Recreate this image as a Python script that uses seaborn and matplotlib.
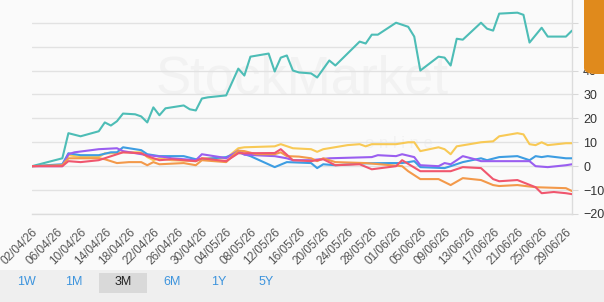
import pandas as pd
import numpy as np
import matplotlib
matplotlib.use("Agg")
import matplotlib.pyplot as plt
import matplotlib.dates as mdates
from matplotlib.patches import FancyBboxPatch, Rectangle
import seaborn as sns

# 데이터: 시작일(02/04/26) 기준 경과일, 누적 수익률(%)
start = pd.Timestamp("2026-04-02")

teal_days = [0, 5, 6, 8, 11, 12, 13, 14, 15, 17, 18, 19, 20, 21, 22, 25, 26, 27, 28, 29, 32, 34, 35, 36, 39,
             40, 41, 42, 43, 44, 46, 47, 49, 50, 54, 55, 56, 57, 60, 62, 63, 64, 67, 68, 69, 70, 71, 74, 75,
             76, 77, 80, 81, 82, 84, 85, 88, 89]
teal_vals = [0, 3.3, 13.8, 12.5, 14.6, 18.3, 17, 18.8, 22, 21.7, 20.8, 18.3, 24.6, 21.3, 24.2, 25.4, 23.8, 23.3,
             28.3, 28.8, 29.6, 40.8, 37.9, 45.8, 47.1, 39.6, 45.4, 46.3, 40, 39.2, 38.8, 37.1, 44.2, 42.1, 52.1,
             51.3, 55, 55, 60, 58.3, 54.2, 40, 45.8, 45.4, 42.1, 53.3, 52.9, 60, 57.5, 56.7, 63.8, 64.2, 63.3,
             51.7, 57.9, 54.2, 54.2, 56.7]

yellow_days = [0, 5, 6, 8, 11, 12, 13, 15, 18, 19, 20, 21, 23, 27, 28, 32, 34, 35, 40, 41, 43, 46, 47, 48, 52,
               54, 55, 56, 60, 62, 63, 64, 67, 68, 69, 70, 74, 76, 77, 80, 81, 82, 83, 84, 85, 88, 89]
yellow_vals = [0, 0.4, 4.6, 3.8, 3.8, 5.4, 5.4, 5.8, 5.8, 3.8, 2.5, 3.3, 2.5, 2.1, 3.3, 3.3, 7.5, 7.9, 8.3, 9.2,
               7.5, 7.1, 6.0, 7.1, 8.8, 9.2, 8.3, 9.2, 9.2, 10, 10, 6.3, 7.9, 7.1, 5, 8.3, 10, 10.4, 12.5, 13.8,
               13.3, 9.2, 8.8, 10, 8.8, 9.6, 9.6]

blue_days = [0, 5, 6, 8, 11, 13, 14, 15, 17, 18, 19, 21, 25, 27, 28, 32, 34, 36, 40, 42, 46, 47, 48, 50, 55,
             59, 61, 63, 64, 68, 69, 71, 74, 75, 77, 80, 82, 83, 84, 85, 88, 89]
blue_vals = [0, 0.8, 5.4, 4.6, 4.6, 5.8, 5.8, 7.9, 7.1, 6.7, 5, 4.2, 4.2, 2.9, 2.9, 3.8, 5.8, 4.2, -0.4, 1.7,
             1.3, -0.8, 0.8, 0.4, 1.2, 1.3, 1.3, 2.1, -0.4, -0.8, 0, 1.7, 3.3, 2.5, 3.8, 4.2, 2.5, 4.2, 3.8,
             4.2, 3.3, 3.3]

purple_days = [0, 5, 6, 7, 11, 14, 15, 19, 22, 23, 27, 28, 31, 32, 34, 35, 40, 42, 43, 46, 49, 56, 57, 60, 61,
               63, 64, 67, 68, 69, 71, 73, 74, 77, 82, 83, 85, 88, 89]
purple_vals = [0, 0, 5, 5.8, 7.1, 7.5, 6.3, 4.6, 3.8, 3.3, 2.5, 5, 3.8, 3.3, 6.5, 4.8, 4.2, 3.3, 2.5, 2.5, 3.3,
               3.8, 4.6, 4.2, 5, 3.8, 0.4, 0, 1.3, 0.8, 4.2, 2.9, 2.1, 2.1, 2.1, 0, -0.4, 0.4, 0.8]

orange_days = [0, 5, 6, 11, 12, 14, 16, 18, 19, 20, 21, 25, 27, 28, 32, 34, 35, 37, 40, 41, 42, 44, 46, 47, 48,
               50, 55, 61, 62, 64, 67, 69, 71, 74, 76, 77, 80, 83, 88, 89]
orange_vals = [0, 0.4, 3.3, 3.3, 2.9, 1.3, 1.7, 1.7, 0.4, 1.7, 0.8, 1.3, 0.4, 2.5, 1.7, 6.5, 6.3, 5, 5, 5.8, 4.2,
               4, 3.3, 2.1, 3.3, 1.7, 1.3, 0, -2.1, -5.4, -5.4, -7.9, -5, -5.8, -7.9, -8.3, -7.9, -8.8, -9.2,
               -10.4]

red_days = [0, 5, 6, 8, 11, 15, 18, 19, 21, 23, 27, 28, 32, 34, 40, 41, 43, 46, 48, 50, 54, 56, 60, 61, 64, 69,
            71, 74, 76, 77, 80, 83, 84, 86, 88, 89]
red_vals = [0, 0, 2.1, 1.7, 2.5, 5.8, 5.4, 4.2, 2.5, 2.9, 2.1, 3.3, 2.1, 5.4, 5.5, 7.1, 2.5, 2.1, 2.9, 0.4, 0.8,
            -1.3, 0, 2.5, -2.1, -2.1, -0.4, -0.8, -5.4, -6.3, -5.8, -8.8, -11.3, -10.8, -11.3, -11.7]

series = {
    "teal": (teal_days, teal_vals),
    "yellow": (yellow_days, yellow_vals),
    "blue": (blue_days, blue_vals),
    "purple": (purple_days, purple_vals),
    "orange": (orange_days, orange_vals),
    "red": (red_days, red_vals),
}
colors = {"teal": "#4dbdb6", "yellow": "#f8c955", "blue": "#3d9de2",
          "purple": "#9a5ef0", "orange": "#f3994a", "red": "#f0566e"}

rows = []
for name, (days, vals) in series.items():
    for d, v in zip(days, vals):
        rows.append({"date": start + pd.Timedelta(days=d), "value": v, "series": name})
df = pd.DataFrame(rows)

sns.set_style("white")
plt.rcParams["font.family"] = ["Liberation Sans", "DejaVu Sans"]

fig = plt.figure(figsize=(6.04, 3.02), dpi=100)
fig.patch.set_facecolor("#fafafa")
ax = fig.add_axes([32 / 604, 1 - 214 / 302, 540 / 604, 214 / 302])
ax.set_facecolor("#fafafa")

# 워터마크
ax.text(0.5, 0.63, "StockMarket", transform=ax.transAxes, ha="center", va="center",
        fontsize=38, color="#f2f2f2", zorder=0)
ax.text(0.68, 0.33, "o n l i n e", transform=ax.transAxes, ha="center", va="center",
        fontsize=12, color="#f2f2f2", zorder=0)

sns.lineplot(data=df, x="date", y="value", hue="series", hue_order=list(series.keys()),
             palette=colors, legend=False, linewidth=1.5, ax=ax, zorder=3)

ax.set_ylim(-20, 69.5)
ax.set_xlim(start, start + pd.Timedelta(days=89))
ax.set_yticks([-20, -10, 0, 10, 20, 30, 40, 50, 60])
ax.yaxis.tick_right()
ax.grid(axis="y", color="#e2e2e2", linewidth=1)
ax.grid(axis="x", visible=False)
ax.set_xlabel("")
ax.set_ylabel("")

xticks = pd.date_range(start, start + pd.Timedelta(days=88), freq="4D")
ax.set_xticks(xticks)
ax.xaxis.set_major_formatter(mdates.DateFormatter("%d/%m/%y"))
plt.setp(ax.get_xticklabels(), rotation=45, ha="right", rotation_mode="anchor")
ax.tick_params(axis="x", length=6, color="#d8d8d8", labelsize=8.5, labelcolor="#555555", pad=3)
ax.tick_params(axis="y", length=4, color="#d8d8d8", labelsize=9, labelcolor="#333333", pad=4)

for s in ["top", "left"]:
    ax.spines[s].set_visible(False)
for s in ["right", "bottom"]:
    ax.spines[s].set_color("#dcdcdc")
    ax.spines[s].set_linewidth(1)

# 하단 기간 버튼 영역
fig.patches.append(Rectangle((0, 0), 1, 32 / 302, transform=fig.transFigure,
                             facecolor="#efefef", edgecolor="none", zorder=0))
fig.patches.append(Rectangle((99 / 604, 9 / 302), 48 / 604, 20 / 302, transform=fig.transFigure,
                             facecolor="#d9d9d9", edgecolor="none", zorder=1))
buttons = ["1W", "1M", "3M", "6M", "1Y", "5Y"]
btn_x = [26, 74, 123, 172, 219, 266]
for label, bx in zip(buttons, btn_x):
    fig.text(bx / 604, 1 - 282 / 302, label, ha="center", va="center", fontsize=9,
             color="#222222" if label == "3M" else "#3d94dd", zorder=2)

# 우측 상단 주황색 탭
fig.patches.append(FancyBboxPatch((584 / 604, 1 - 74 / 302), 40 / 604, 90 / 302,
                                  boxstyle="round,pad=0,rounding_size=0.02", transform=fig.transFigure,
                                  facecolor="#e08a1c", edgecolor="none", zorder=5))

plt.savefig("out.png", dpi=100, facecolor=fig.get_facecolor())
